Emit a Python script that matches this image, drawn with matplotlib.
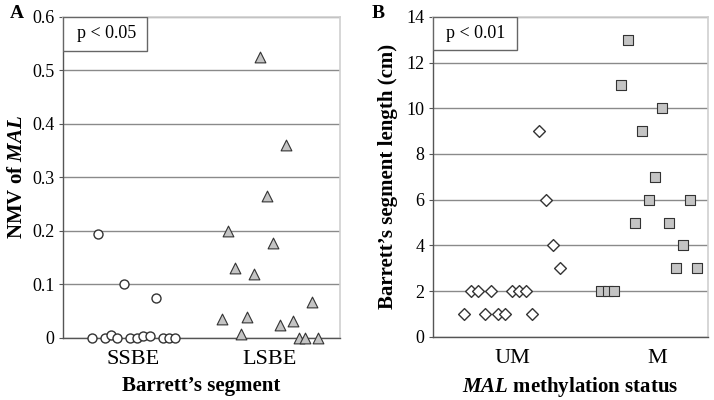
import numpy as np
import matplotlib.pyplot as plt

plt.rcParams['font.family'] = ['Liberation Serif', 'DejaVu Serif']
plt.rcParams['mathtext.fontset'] = 'custom'
plt.rcParams['mathtext.bf'] = 'Liberation Serif:italic:bold'

# panel A: NMV of MAL by Barrett's segment
ssbe_nmv = [0, 0.195, 0, 0.005, 0, 0.1, 0, 0, 0.004, 0.004, 0.075, 0, 0, 0]
lsbe_nmv = [0.035, 0.2, 0.13, 0.008, 0.04, 0.12, 0.525, 0.265, 0.178,
            0.025, 0.36, 0.032, 0, 0, 0.068, 0]
cats_a = ['SSBE', 'LSBE']

# panel B: segment length by methylation status
um_len = [1, 2, 2, 1, 2, 1, 1, 2, 2, 2, 1, 9, 6, 4, 3]
m_len = [2, 2, 2, 11, 13, 5, 9, 6, 7, 10, 5, 3, 4, 6, 3]
cats_b = ['UM', 'M']

step = 0.047
grid_c = '#8a8a8a'
frame_c = '#cfcfcf'
fill_c = '#c4c4c4'
edge_c = '#333333'


def spread(center, n):
    return center + (np.arange(n) - (n - 1) / 2) * step


def style_ax(ax, ylim, yticks, fmt):
    ax.set_ylim(*ylim)
    ax.set_yticks(yticks)
    ax.set_yticklabels([fmt(v) for v in yticks], fontsize=13)
    ax.yaxis.grid(True, color=grid_c, lw=1)
    ax.set_axisbelow(True)
    for s in ['top', 'right']:
        ax.spines[s].set_color(frame_c)
        ax.spines[s].set_linewidth(1.2)
    for s in ['left', 'bottom']:
        ax.spines[s].set_color('#555555')
        ax.spines[s].set_linewidth(1)
    ax.tick_params(axis='y', length=3, color='#555555', pad=3)
    ax.tick_params(axis='x', length=0, pad=9)
    ax.set_xticks([1, 2])


def p_box(ax, label):
    ax.add_patch(plt.Rectangle((0, 0.895), 0.305, 0.105, transform=ax.transAxes,
                               facecolor='white', edgecolor='#666666', lw=1, zorder=4))
    ax.text(0.05, 0.947, label, fontsize=13, ha='left', va='center',
            transform=ax.transAxes, zorder=5)


fig = plt.figure(figsize=(7.14, 4), dpi=100)

# ---- A ----
axa = fig.add_axes([0.088, 0.155, 0.388, 0.803])
axa.scatter(spread(1, len(ssbe_nmv)) + 0.005, ssbe_nmv, s=42, marker='o',
            facecolor='white', edgecolor=edge_c, lw=1, zorder=3, clip_on=False)
axa.scatter(spread(2, len(lsbe_nmv)), lsbe_nmv, s=60, marker='^',
            facecolor=fill_c, edgecolor=edge_c, lw=0.8, zorder=3, clip_on=False)
axa.set_xlim(0.489, 2.51)
style_ax(axa, (0, 0.6), [0, 0.1, 0.2, 0.3, 0.4, 0.5, 0.6],
         lambda v: '0' if v == 0 else f'{v:.1f}')
axa.set_xticklabels(cats_a, fontsize=16)
axa.set_xlabel("Barrett\u2019s segment", fontsize=15, fontweight='bold', labelpad=5)
axa.set_ylabel(r"NMV of $\mathbf{MAL}$", fontsize=15, fontweight='bold', labelpad=4)
p_box(axa, 'p < 0.05')
fig.text(0.014, 0.955, 'A', fontsize=14, fontweight='bold')

# ---- B ----
axb = fig.add_axes([0.606, 0.158, 0.386, 0.8])
axb.scatter(spread(1, len(um_len)), um_len, s=36, marker='D',
            facecolor='white', edgecolor=edge_c, lw=1, zorder=3, clip_on=False)
axb.scatter(spread(1.94, len(m_len)), m_len, s=44, marker='s',
            facecolor=fill_c, edgecolor=edge_c, lw=0.8, zorder=3, clip_on=False)
axb.set_xlim(0.455, 2.35)
style_ax(axb, (0, 14), [0, 2, 4, 6, 8, 10, 12, 14], lambda v: f'{v:d}')
axb.set_xticklabels(cats_b, fontsize=16)
axb.set_xlabel(r"$\mathbf{MAL}$ methylation status", fontsize=15,
               fontweight='bold', labelpad=5)
axb.set_ylabel("Barrett\u2019s segment length (cm)", fontsize=15,
               fontweight='bold', labelpad=6)
p_box(axb, 'p < 0.01')
fig.text(0.52, 0.955, 'B', fontsize=14, fontweight='bold')

fig.savefig('out.png', dpi=100)
